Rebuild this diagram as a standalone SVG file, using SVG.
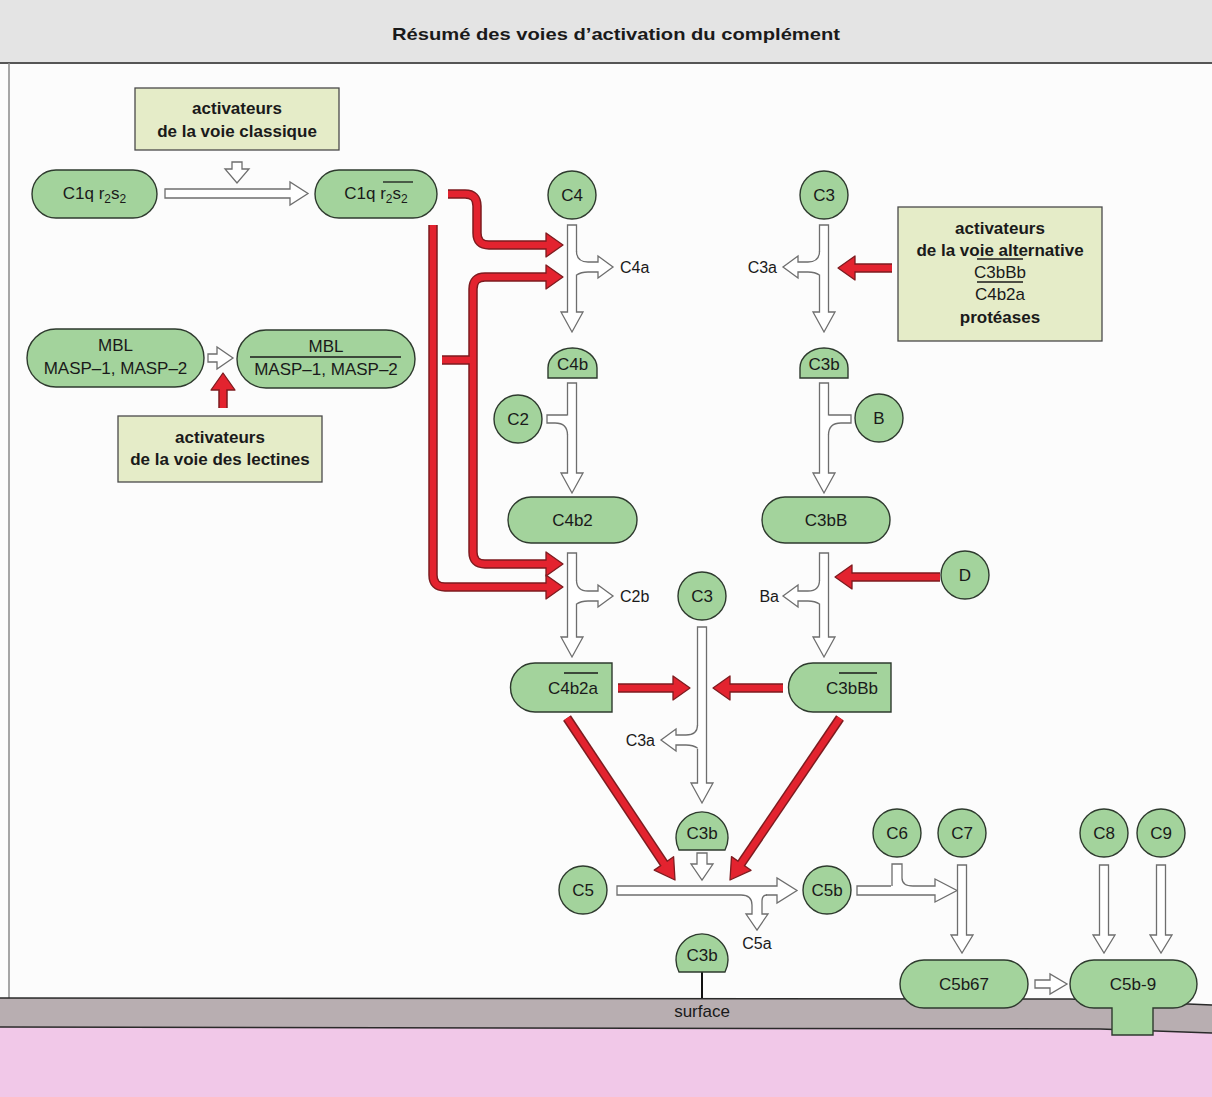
<svg xmlns="http://www.w3.org/2000/svg" width="1212" height="1097" viewBox="0 0 1212 1097">
<style>
.n{fill:#a3d39c;stroke:#2e3a2e;stroke-width:1.4}
.bx{fill:#e5ecc8;stroke:#4a4a4a;stroke-width:1.3}
.t{font-family:"Liberation Sans",Arial,sans-serif;font-size:17px;fill:#1a1a1a;text-anchor:middle}
.b{font-weight:bold}
.l{font-family:"Liberation Sans",Arial,sans-serif;font-size:16px;fill:#1a1a1a}
.h{fill:#fff;stroke:#6e6e6e;stroke-width:1.3;stroke-linejoin:miter}
.e{fill:#fff}
.ro{fill:none;stroke:#7d1b1f;stroke-width:9.5}
.ri{fill:none;stroke:#e3232f;stroke-width:6.5}
.rh{fill:#e3232f;stroke:#7d1b1f;stroke-width:1.3;stroke-linejoin:round}
.ov{stroke:#1a1a1a;stroke-width:1.3}
</style>
<!-- background -->
<rect x="0" y="0" width="1212" height="1097" fill="#fcfcfc"/>
<rect x="0" y="0" width="1212" height="62" fill="#e4e4e4"/>
<line x1="0" y1="63" x2="1212" y2="63" stroke="#555" stroke-width="2"/>
<line x1="9" y1="63" x2="9" y2="998" stroke="#8a8a8a" stroke-width="1.5"/>
<text x="616" y="40" class="t b" font-size="20" textLength="448" lengthAdjust="spacingAndGlyphs">Résumé des voies d’activation du complément</text>
<!-- surface -->
<g id="surface">
<rect x="0" y="1015" width="1212" height="82" fill="#f1c8e8"/>
<polygon points="0,998 1070,999 1212,1005 1212,1033 1100,1029 0,1027" fill="#b8aeb1"/>
<polyline points="0,998 1070,999 1212,1005" fill="none" stroke="#2a2a2a" stroke-width="1.5"/>
<polyline points="0,1027 1100,1029 1212,1033" fill="none" stroke="#2a2a2a" stroke-width="1.5"/>
<text x="702" y="1017" class="t">surface</text>
</g>

<!-- connectors -->
<g id="connectors">
<!-- hollow arrows -->
<polygon class="h" points="232,162 242,162 242,169 249,169 237,183 225,169 232,169"/>
<polygon class="h" points="165,189 290,189 290,182 308,193.5 290,205 290,198 165,198"/>
<polygon class="h" points="208,354 217,354 217,347 233,358 217,369 217,362 208,362"/>

<polygon class="h" points="567.5,225 576.5,225 576.5,312 583,312 572,332 561,312 567.5,312"/>
<rect class="e" x="572" y="251.6" width="6" height="23"/>
<path class="h" d="M576.5,251 Q576.5,262 588,262 H598 V256 L613,267 L598,278 V272 H588 Q581,272 576.5,275"/>

<polygon class="h" points="567.5,383 576.5,383 576.5,473 583,473 572,493 561,473 567.5,473"/>
<rect class="e" x="566" y="415.6" width="5" height="19"/>
<path class="h" d="M567.5,415 H547 V423 H555 Q567.5,423 567.5,435"/>

<polygon class="h" points="567.5,553 576.5,553 576.5,637 583,637 572,657 561,637 567.5,637"/>
<rect class="e" x="572" y="580.6" width="6" height="23"/>
<path class="h" d="M576.5,580 Q576.5,591 588,591 H598 V585 L613,596 L598,607 V601 H588 Q581,601 576.5,604"/>

<polygon class="h" points="819.5,225 828.5,225 828.5,312 835,312 824,332 813,312 819.5,312"/>
<rect class="e" x="818" y="251.6" width="6" height="23"/>
<path class="h" d="M819.5,251 Q819.5,262 808,262 H798 V256 L783,267 L798,278 V272 H808 Q815,272 819.5,275"/>

<polygon class="h" points="819.5,383 828.5,383 828.5,473 835,473 824,493 813,473 819.5,473"/>
<rect class="e" x="826" y="415.6" width="4" height="19"/>
<path class="h" d="M828.5,415 H851 V423 H841 Q828.5,423 828.5,435"/>

<polygon class="h" points="819.5,553 828.5,553 828.5,637 835,637 824,657 813,637 819.5,637"/>
<rect class="e" x="818" y="580.6" width="6" height="23"/>
<path class="h" d="M819.5,580 Q819.5,591 808,591 H798 V585 L783,596 L798,607 V601 H808 Q815,601 819.5,604"/>

<polygon class="h" points="697.5,627 706.5,627 706.5,783 713,783 702,803 691,783 697.5,783"/>
<rect class="e" x="696" y="725.6" width="6" height="23"/>
<path class="h" d="M697.5,725 Q697.5,735 686,735 H676 V729 L661,740 L676,751 V745 H686 Q693,745 697.5,748"/>

<polygon class="h" points="697,853 707,853 707,864 713,864 702,880 691,864 697,864"/>

<polygon class="h" points="617,886 777,886 777,878 797,890.5 777,903 777,895 617,895"/>
<rect class="e" x="741" y="893" width="25" height="4"/>
<path class="h" d="M741,895 Q752,895 752,905 V914 H746 L757,930 L768,914 H762 V901 Q762,895 767,895"/>

<polygon class="h" points="857,886 935,886 935,879 957,890.5 935,902 935,895 857,895"/>
<rect class="e" x="891" y="884" width="22" height="4"/>
<path class="h" d="M892,886 V864 H902 V878 Q902,886 913,886"/>

<polygon class="h" points="957.5,865 966.5,865 966.5,935 973,935 962,953 951,935 957.5,935"/>
<polygon class="h" points="1099.5,865 1108.5,865 1108.5,935 1115,935 1104,953 1093,935 1099.5,935"/>
<polygon class="h" points="1156.5,865 1165.5,865 1165.5,935 1172,935 1161,953 1150,935 1156.5,935"/>
<polygon class="h" points="1035,980 1050,980 1050,974 1067,984 1050,994 1050,988 1035,988"/>

<!-- red arrows: outlines -->
<g class="ro">
<path d="M448,194 H465 Q477,194 477,206 V233 Q477,245 489,245 H549"/>
<path d="M549,277 H485 Q473,277 473,289 V552 Q473,564 485,564 H549"/>
<path d="M433,225 V575 Q433,587 445,587 H549"/>
<path d="M442,360 H473"/>
<path d="M892,268 H852"/>
<path d="M940,577 H849"/>
<path d="M618,688 H676"/>
<path d="M783,688 H727"/>
<path d="M567,718 L665.6,865.9"/>
<path d="M840,718 L739.6,865.9"/>
<path d="M223,408 V387"/>
</g>
<g class="rh">
<polygon points="546,233 563,245 546,257"/>
<polygon points="546,265 563,277 546,289"/>
<polygon points="546,552 563,564 546,576"/>
<polygon points="546,575 563,587 546,599"/>
<polygon points="855,256 838,268 855,280"/>
<polygon points="852,565 835,577 852,589"/>
<polygon points="673,676 690,688 673,700"/>
<polygon points="730,676 713,688 730,700"/>
<polygon points="675,880 654.2,870.1 673.6,856.7"/>
<polygon points="730,880 731.5,856.6 751,870.3"/>
<polygon points="223,373 211,390 235,390"/>
</g>
<g class="ri">
<path d="M448,194 H465 Q477,194 477,206 V233 Q477,245 489,245 H549"/>
<path d="M549,277 H485 Q473,277 473,289 V552 Q473,564 485,564 H549"/>
<path d="M433,225 V575 Q433,587 445,587 H549"/>
<path d="M442,360 H473"/>
<path d="M892,268 H852"/>
<path d="M940,577 H849"/>
<path d="M618,688 H676"/>
<path d="M783,688 H727"/>
<path d="M567,718 L665.6,865.9"/>
<path d="M840,718 L739.6,865.9"/>
<path d="M223,408 V387"/>
</g>
<line x1="702" y1="972" x2="702" y2="998" stroke="#111" stroke-width="2"/>
</g>

<!-- labels -->
<g id="labels" class="l">
<text x="620" y="273">C4a</text>
<text x="620" y="602">C2b</text>
<text x="777" y="273" text-anchor="end">C3a</text>
<text x="779" y="602" text-anchor="end">Ba</text>
<text x="655" y="746" text-anchor="end">C3a</text>
<text x="757" y="949" text-anchor="middle">C5a</text>
</g>

<!-- nodes -->
<g id="act-classique">
<rect class="bx" x="135" y="88" width="204" height="62"/>
<text x="237" y="114" class="t b">activateurs</text>
<text x="237" y="137" class="t b">de la voie classique</text>
</g>
<g id="act-lectines">
<rect class="bx" x="118" y="416" width="204" height="66"/>
<text x="220" y="443" class="t b">activateurs</text>
<text x="220" y="465" class="t b">de la voie des lectines</text>
</g>
<g id="act-alternative">
<rect class="bx" x="898" y="207" width="204" height="134"/>
<text x="1000" y="234" class="t b">activateurs</text>
<text x="1000" y="256" class="t b">de la voie alternative</text>
<line class="ov" x1="977" y1="259" x2="1023" y2="259"/>
<text x="1000" y="278" class="t">C3bBb</text>
<line class="ov" x1="977" y1="282" x2="1023" y2="282"/>
<text x="1000" y="300" class="t">C4b2a</text>
<text x="1000" y="323" class="t b">protéases</text>
</g>
<g id="c1q">
<rect class="n" x="32" y="170" width="125" height="48" rx="24"/>
<text x="94.5" y="199" class="t">C1q r<tspan dy="4" font-size="12">2</tspan><tspan dy="-4">s</tspan><tspan dy="4" font-size="12">2</tspan></text>
</g>
<g id="c1q-act">
<rect class="n" x="315" y="170" width="122" height="48" rx="24"/>
<text x="376" y="199" class="t">C1q r<tspan dy="4" font-size="12">2</tspan><tspan dy="-4">s</tspan><tspan dy="4" font-size="12">2</tspan></text>
<line class="ov" x1="383" y1="182" x2="413" y2="182"/>
</g>
<g id="mbl">
<rect class="n" x="27" y="329" width="177" height="58" rx="29"/>
<text x="115.5" y="351" class="t">MBL</text>
<text x="115.5" y="374" class="t">MASP–1, MASP–2</text>
</g>
<g id="mbl-act">
<rect class="n" x="237" y="330" width="178" height="58" rx="29"/>
<text x="326" y="352" class="t">MBL</text>
<line class="ov" x1="250" y1="357" x2="401" y2="357"/>
<text x="326" y="375" class="t">MASP–1, MASP–2</text>
</g>
<g id="c4"><circle class="n" cx="572" cy="195" r="24"/><text x="572" y="201" class="t">C4</text></g>
<g id="c4b"><path class="n" d="M548,378 V368 A24.5,20 0 0 1 597,368 V378 Z"/><text x="572.5" y="370" class="t">C4b</text></g>
<g id="c2"><circle class="n" cx="518" cy="419" r="24"/><text x="518" y="425" class="t">C2</text></g>
<g id="c4b2"><rect class="n" x="508" y="497" width="129" height="46" rx="23"/><text x="572.5" y="526" class="t">C4b2</text></g>
<g id="c4b2a"><path class="n" d="M535,663 H612 V712 H535 A24.5,24.5 0 0 1 535,663 Z"/><text x="573" y="694" class="t">C4b2a</text><line class="ov" x1="564" y1="673" x2="598" y2="673"/></g>
<g id="c3-top"><circle class="n" cx="824" cy="195" r="24"/><text x="824" y="201" class="t">C3</text></g>
<g id="c3b-right"><path class="n" d="M800,378 V368 A24,20 0 0 1 848,368 V378 Z"/><text x="824" y="370" class="t">C3b</text></g>
<g id="b"><circle class="n" cx="879" cy="418" r="24"/><text x="879" y="424" class="t">B</text></g>
<g id="c3bb"><rect class="n" x="762" y="497" width="128" height="46" rx="23"/><text x="826" y="526" class="t">C3bB</text></g>
<g id="d"><circle class="n" cx="965" cy="575" r="24"/><text x="965" y="581" class="t">D</text></g>
<g id="c3bbb"><path class="n" d="M813,663 H891 V712 H813 A24.5,24.5 0 0 1 813,663 Z"/><text x="852" y="694" class="t">C3bBb</text><line class="ov" x1="839" y1="673" x2="877" y2="673"/></g>
<g id="c3-mid"><circle class="n" cx="702" cy="596" r="24"/><text x="702" y="602" class="t">C3</text></g>
<g id="c3b-mid"><path class="n" d="M679,850 A26,26 0 1 1 725,850 Z"/><text x="702" y="839" class="t">C3b</text></g>
<g id="c3b-surf"><path class="n" d="M679,972 A26,26 0 1 1 725,972 Z"/><text x="702" y="961" class="t">C3b</text></g>
<g id="c5"><circle class="n" cx="583" cy="890" r="24"/><text x="583" y="896" class="t">C5</text></g>
<g id="c5b"><circle class="n" cx="827" cy="890" r="24"/><text x="827" y="896" class="t">C5b</text></g>
<g id="c6"><circle class="n" cx="897" cy="833" r="24"/><text x="897" y="839" class="t">C6</text></g>
<g id="c7"><circle class="n" cx="962" cy="833" r="24"/><text x="962" y="839" class="t">C7</text></g>
<g id="c8"><circle class="n" cx="1104" cy="833" r="24"/><text x="1104" y="839" class="t">C8</text></g>
<g id="c9"><circle class="n" cx="1161" cy="833" r="24"/><text x="1161" y="839" class="t">C9</text></g>
<g id="c5b67"><rect class="n" x="900" y="960" width="128" height="48" rx="24"/><text x="964" y="990" class="t">C5b67</text></g>
<g id="c5b-9"><path class="n" d="M1094,960 H1173 A24,24 0 0 1 1173,1008 H1153 V1035 H1112 V1008 H1094 A24,24 0 0 1 1094,960 Z"/><text x="1133" y="990" class="t">C5b-9</text></g>
</svg>
